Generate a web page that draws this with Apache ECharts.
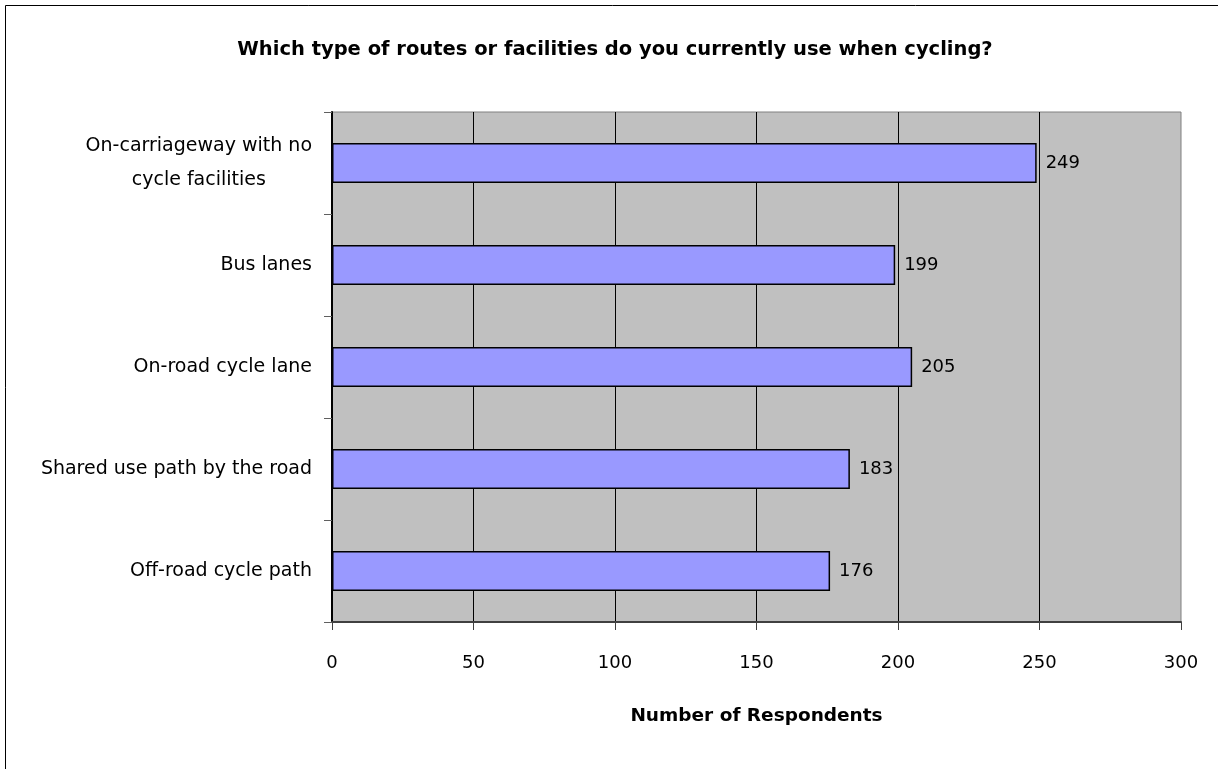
<!DOCTYPE html>
<html>
<head>
<meta charset="utf-8">
<title>Which type of routes or facilities do you currently use when cycling?</title>
<script src="https://cdn.jsdelivr.net/npm/echarts@6/dist/echarts.min.js"></script>
<style>
  html, body { margin: 0; padding: 0; background: #ffffff; }
  #chart { width: 1218px; height: 769px; }
</style>
</head>
<body>
<div id="chart"></div>
<script>
// Survey responses: route / facility types used when cycling (top to bottom)
const categories = [
  'On-carriageway with no\ncycle facilities',
  'Bus lanes',
  'On-road cycle lane',
  'Shared use path by the road',
  'Off-road cycle path'
];
const respondents = [249, 199, 205, 183, 176];
const xTicks = [0, 50, 100, 150, 200, 250, 300];

const titleText = 'Which type of routes or facilities do you currently use when cycling?';
const xAxisName = 'Number of Respondents';

const FONT = 'DejaVu Sans';

const chart = echarts.init(document.getElementById('chart'), null, { renderer: 'canvas' });

chart.setOption({
  backgroundColor: '#ffffff',
  animation: false,
  title: {
    text: titleText,
    left: 610,
    top: 35,
    textAlign: 'center',
    textStyle: { fontFamily: FONT, fontSize: 19.5, fontWeight: 'bold', color: '#000000' }
  },
  graphic: [{
    type: 'rect',
    shape: { x: 5.5, y: 5.5, width: 1300, height: 900 },
    style: { fill: 'none', stroke: '#000000', lineWidth: 1 },
    silent: true
  }],
  grid: {
    left: 332,
    right: 37,
    top: 112,
    bottom: 147,
    show: true,
    backgroundColor: '#C0C0C0',
    borderColor: '#808080',
    borderWidth: 1
  },
  xAxis: {
    type: 'value',
    min: xTicks[0],
    max: xTicks[xTicks.length - 1],
    interval: xTicks[1] - xTicks[0],
    name: xAxisName,
    nameLocation: 'middle',
    nameGap: 85,
    nameTextStyle: { fontFamily: FONT, fontSize: 18.5, fontWeight: 'bold', color: '#000000' },
    axisLine: { show: true, lineStyle: { color: '#404040', width: 2 } },
    axisTick: { show: true, length: 8, lineStyle: { color: '#404040', width: 1 } },
    axisLabel: { margin: 32, fontFamily: FONT, fontSize: 18, color: '#000000' },
    splitLine: { show: true, showMaxLine: false, lineStyle: { color: '#000000', width: 1 } }
  },
  yAxis: {
    type: 'category',
    data: categories,
    inverse: true,
    axisLine: { show: true, lineStyle: { color: '#000000', width: 2 } },
    axisTick: { show: true, length: 8, lineStyle: { color: '#606060', width: 1 } },
    axisLabel: {
      margin: 20,
      fontFamily: FONT,
      fontSize: 19,
      color: '#000000',
      lineHeight: 34,
      formatter: function (v) {
        return v.split('\n').map(function (s) { return '{c|' + s + '}'; }).join('\n');
      },
      rich: {
        c: { align: 'center', fontFamily: FONT, fontSize: 19, color: '#000000', lineHeight: 34 }
      }
    },
    splitLine: { show: false }
  },
  series: [{
    type: 'bar',
    data: respondents,
    barWidth: 40,
    itemStyle: { color: '#9999FF', borderColor: '#000000', borderWidth: 1.5 },
    label: {
      show: true,
      position: 'right',
      distance: 9,
      fontFamily: FONT,
      fontSize: 18,
      color: '#000000'
    }
  }]
});
</script>
</body>
</html>
